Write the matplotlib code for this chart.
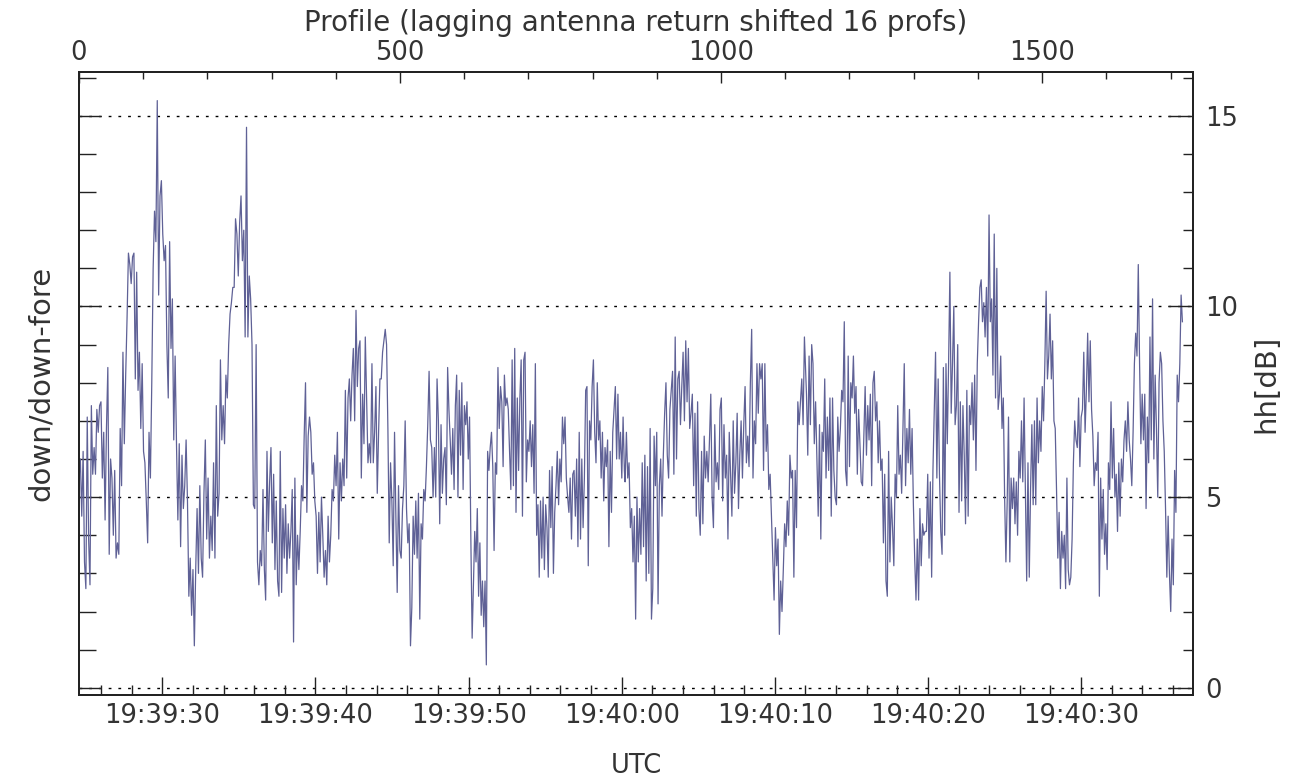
"""
Lagging-antenna down/down-fore ratio (hh, dB) vs profile number and UTC.
"""
import matplotlib
matplotlib.use("Agg")
import matplotlib.pyplot as plt
import matplotlib.ticker as mticker
import numpy as np

LINE_COLOR = "#5f6196"
TEXT_COLOR = "#333333"
FS = 18.5

# ── data ──────────────────────────────────────────────────────────────────────
# hh[dB] samples, read roughly every 2 profiles; one list per stretch of the trace
SEG_START = [0.0, 290.7, 570.1, 850.5, 1133.0, 1413.3]      # profile at first sample
SEG_END   = [288.7, 568.0, 849.4, 1129.8, 1411.2, 1718.5]   # profile at last sample

hh_seg1 = [5.5, 6.0, 4.5, 6.2, 3.3, 2.6, 7.1, 3.9, 2.7, 7.4, 5.6, 6.3, 5.6, 7.3, 6.7, 7.4,
           7.5, 5.5, 6.7, 4.4, 6.8, 8.4, 3.5, 6.0, 5.5, 4.0, 5.7, 3.4, 3.8, 3.5, 6.8, 5.3,
           8.8, 6.4, 8.2, 9.7, 11.4, 11.1, 10.6, 11.3, 11.4, 8.1, 10.9, 7.8, 8.8, 6.8, 8.5,
           6.2, 5.9, 4.9, 3.8, 6.7, 5.5, 8.0, 11.0, 12.5, 11.7, 15.4, 10.3, 12.9, 13.3, 11.9,
           11.2, 11.6, 9.0, 7.6, 11.7, 8.9, 10.2, 6.5, 8.7, 6.4, 4.4, 6.4, 3.7, 6.1, 4.7, 5.3,
           6.5, 4.9, 2.4, 3.4, 1.9, 3.1, 1.1, 3.1, 4.7, 3.0, 5.3, 3.4, 2.9, 5.1, 6.5, 3.9,
           5.5, 3.4, 4.5, 3.6, 5.9, 3.4, 7.4, 4.5, 5.1, 8.6, 6.5, 7.4, 6.4, 8.2, 7.6, 9.0,
           9.8, 10.1, 10.5, 10.5, 12.3, 11.9, 10.8, 12.2, 12.9, 11.2, 12.0, 9.2, 14.7, 9.2,
           10.8, 10.2, 9.0, 4.8, 4.7, 9.0, 3.3, 2.7, 3.6, 3.2, 5.2, 3.1]
hh_seg2 = [2.3, 6.2, 4.1, 5.4, 6.3, 3.8, 5.6, 3.1, 4.9, 2.8, 2.4, 6.2, 2.5, 4.7, 3.4, 4.8,
           3.0, 4.3, 3.4, 4.1, 5.2, 1.2, 5.5, 2.7, 4.0, 3.1, 4.1, 5.3, 4.9, 6.6, 8.0, 4.6,
           6.6, 7.1, 6.7, 5.6, 5.9, 4.9, 4.5, 3.0, 4.6, 3.3, 5.0, 4.0, 2.9, 3.6, 2.7, 4.5,
           3.3, 4.0, 5.2, 4.9, 6.1, 5.3, 6.7, 3.9, 5.9, 4.9, 6.0, 5.3, 7.8, 5.5, 7.6, 8.1,
           7.0, 8.2, 8.9, 7.0, 9.9, 7.9, 8.9, 9.1, 5.5, 7.7, 6.4, 9.2, 7.6, 5.9, 6.4, 5.9,
           8.5, 5.9, 6.7, 7.9, 5.1, 6.7, 8.1, 8.1, 8.8, 9.1, 9.4, 9.0, 6.8, 3.8, 5.9, 4.9,
           3.2, 6.7, 4.5, 2.5, 5.3, 3.6, 3.4, 4.7, 5.3, 7.0, 4.7, 3.8, 4.3, 1.1, 2.1, 4.5,
           3.5, 4.9, 3.4, 5.1, 1.8, 4.3, 3.9, 5.2, 4.9, 5.8, 6.9, 8.3, 6.5, 6.3, 5.0, 6.3,
           5.0, 8.1, 7.0, 4.3, 6.9, 5.1, 6.0]
hh_seg3 = [6.3, 4.8, 8.4, 7.3, 6.5, 5.6, 6.8, 5.2, 7.4, 8.2, 5.0, 7.8, 6.1, 8.0, 5.2, 7.4,
           6.9, 7.5, 6.0, 7.1, 3.9, 1.3, 2.7, 4.1, 3.3, 4.7, 2.4, 3.8, 1.9, 2.8, 1.6, 2.8,
           0.6, 6.2, 5.7, 6.3, 6.7, 5.8, 3.6, 5.9, 5.6, 8.4, 6.8, 7.9, 7.5, 5.8, 8.2, 7.4,
           7.6, 7.3, 6.2, 5.2, 8.6, 5.3, 8.9, 4.6, 7.6, 5.7, 7.6, 8.6, 4.5, 8.6, 8.8, 5.4,
           6.5, 6.2, 7.0, 5.8, 6.9, 5.1, 8.5, 4.0, 4.8, 2.9, 4.9, 3.4, 5.0, 3.1, 4.8, 4.2,
           2.9, 5.7, 4.2, 5.8, 3.0, 4.6, 5.3, 6.2, 4.8, 6.0, 5.4, 7.1, 6.4, 7.1, 5.5, 5.0,
           4.6, 5.5, 3.9, 5.6, 5.7, 4.5, 6.0, 3.7, 6.7, 3.9, 6.0, 4.2, 5.5, 7.8, 7.9, 3.2,
           7.0, 6.5, 7.9, 8.6, 6.7, 5.9, 8.0, 6.5, 7.0, 5.5, 6.7, 4.9, 6.3, 5.8, 6.5, 3.7,
           6.2, 4.6, 6.7, 7.3, 7.9, 6.0, 7.7, 6.0, 6.7, 5.5, 7.1, 5.7]
hh_seg4 = [5.4, 6.7, 5.5, 5.9, 4.2, 4.7, 3.3, 4.5, 1.8, 5.0, 3.3, 4.7, 3.5, 5.9, 3.7, 6.1,
           2.8, 5.8, 3.0, 6.8, 1.8, 2.6, 6.6, 5.3, 6.7, 2.2, 5.3, 6.0, 4.5, 6.1, 7.2, 8.0,
           6.1, 5.5, 7.3, 7.8, 8.3, 5.6, 9.2, 6.0, 8.1, 8.3, 6.9, 7.9, 8.8, 7.0, 9.1, 7.5,
           8.9, 6.8, 7.2, 7.7, 5.3, 7.2, 4.5, 7.5, 4.7, 4.0, 6.2, 4.3, 6.6, 5.5, 6.2, 5.4,
           6.5, 7.7, 5.0, 4.2, 6.9, 5.4, 5.9, 5.2, 7.3, 7.6, 4.9, 6.9, 5.5, 6.1, 3.9, 6.7,
           5.6, 4.5, 7.0, 5.1, 5.9, 7.2, 4.7, 6.1, 7.0, 5.5, 6.9, 7.9, 5.9, 6.6, 5.8, 8.0,
           9.4, 5.5, 7.0, 6.4, 8.5, 7.2, 8.5, 8.1, 8.5, 5.7, 8.5, 6.2, 6.9, 5.2, 5.6, 4.5,
           3.4, 2.3, 4.2, 3.2, 3.9, 1.4, 2.8, 2.0, 3.1, 4.3, 3.7, 4.9, 4.0, 6.1, 5.5, 5.7,
           2.9, 5.7, 4.2, 7.5, 6.9, 7.5, 8.1, 6.9, 9.2]
hh_seg5 = [7.7, 6.1, 8.7, 6.9, 9.0, 8.5, 6.4, 7.5, 6.0, 4.5, 6.9, 3.9, 6.7, 6.2, 8.1, 5.5,
           7.1, 5.7, 7.6, 4.5, 7.6, 5.7, 5.0, 4.8, 7.1, 6.2, 6.8, 7.8, 7.5, 9.6, 5.7, 5.3,
           8.7, 5.8, 8.0, 7.6, 8.7, 7.2, 7.9, 5.6, 7.3, 6.4, 5.4, 5.3, 6.6, 7.9, 6.1, 7.4,
           6.5, 7.7, 5.3, 8.0, 8.3, 7.0, 7.5, 5.9, 7.0, 5.7, 6.0, 3.8, 5.6, 2.8, 2.4, 6.2,
           3.3, 5.0, 4.2, 3.2, 5.6, 5.0, 7.4, 5.6, 6.1, 5.1, 6.8, 8.5, 5.3, 6.8, 5.9, 7.3,
           5.6, 6.8, 4.8, 3.4, 2.3, 3.9, 2.3, 4.7, 3.2, 4.3, 4.0, 4.1, 4.1, 5.6, 3.4, 5.4,
           2.9, 5.7, 7.2, 8.8, 5.5, 8.1, 5.6, 4.1, 3.5, 8.4, 4.0, 8.5, 6.4, 8.5, 10.9, 7.2,
           8.5, 10.0, 6.9, 7.4, 9.0, 4.6, 7.5, 4.9, 7.4, 6.1, 4.3, 7.8, 4.5, 7.4, 6.9, 8.0,
           6.5, 8.2, 5.7, 8.5, 9.6, 10.5, 10.7, 9.6, 10.1, 9.2]
hh_seg6 = [10.5, 8.7, 12.4, 9.6, 10.2, 8.2, 11.9, 7.6, 11.0, 7.3, 7.7, 8.7, 6.8, 7.6, 5.0,
           3.3, 4.9, 7.1, 3.3, 5.5, 4.7, 5.5, 4.3, 5.4, 4.0, 6.2, 5.5, 7.0, 5.4, 7.6, 5.2,
           2.8, 5.9, 2.9, 5.2, 6.9, 4.8, 7.0, 4.8, 7.6, 5.9, 7.0, 6.2, 7.9, 7.0, 8.5, 10.4,
           8.1, 8.7, 9.8, 8.1, 9.1, 7.0, 6.8, 5.2, 3.4, 4.6, 2.6, 4.1, 3.4, 4.0, 2.6, 5.5,
           3.1, 2.7, 2.9, 3.9, 5.9, 7.0, 6.5, 6.3, 7.6, 5.8, 7.1, 7.3, 8.8, 6.7, 7.8, 9.3,
           7.5, 9.1, 7.3, 6.6, 5.3, 5.9, 5.7, 6.7, 2.4, 5.5, 3.9, 5.2, 3.5, 4.3, 3.1, 5.9,
           5.2, 7.5, 5.5, 6.8, 5.0, 5.6, 4.1, 5.9, 4.5, 6.0, 5.4, 6.5, 7.0, 6.2, 7.5, 6.5,
           6.0, 5.3, 6.7, 8.5, 9.3, 8.7, 11.1, 8.5, 6.4, 7.7, 6.5, 7.7, 4.7, 7.1, 5.9, 9.2,
           6.5, 10.2, 6.0, 8.2, 6.8, 5.0, 8.0, 8.8, 8.5, 7.0, 6.2, 4.7, 2.9, 4.5, 3.0, 2.0,
           3.9, 2.7, 5.7, 4.6, 8.2, 7.5, 8.5, 10.3, 9.6]

HH_SEGMENTS = [hh_seg1, hh_seg2, hh_seg3, hh_seg4, hh_seg5, hh_seg6]

# axis ranges / time reference
N_PROFILES = 1735
T0_SEC = 19 * 3600 + 39 * 60 + 24.56       # UTC of profile 0
PROFILES_PER_SEC = 23.85
GRID_LEVELS = [0, 5, 10, 15]


def _t2p(sec):
    return (np.asarray(sec, dtype=float) - T0_SEC) * PROFILES_PER_SEC


def _fmt_utc(p, _pos=None):
    s = int(round(T0_SEC + p / PROFILES_PER_SEC))
    return f"{s // 3600:02d}:{(s % 3600) // 60:02d}:{s % 60:02d}"


def main():
    plt.rcParams.update({
        "font.family": "DejaVu Sans",
        "font.size": FS,
        "text.color": TEXT_COLOR,
        "axes.labelcolor": TEXT_COLOR,
        "xtick.color": "#222222",
        "ytick.color": "#222222",
        "xtick.labelcolor": TEXT_COLOR,
        "ytick.labelcolor": TEXT_COLOR,
    })

    fig = plt.figure(figsize=(12.97, 7.82), dpi=100)
    ax = fig.add_axes([79 / 1297, 87 / 782, 1114 / 1297, 623 / 782])

    profile = np.concatenate([np.linspace(a, b, len(v))
                              for a, b, v in zip(SEG_START, SEG_END, HH_SEGMENTS)])
    hh = np.concatenate(HH_SEGMENTS)

    for lv in GRID_LEVELS:
        ax.axhline(lv, color="black", lw=1.0, ls=(0, (2, 5)), zorder=1)
    ax.plot(profile, hh, color=LINE_COLOR, lw=0.9, zorder=2)

    ax.set_xlim(0, N_PROFILES)
    ax.set_ylim(-0.19, 16.15)
    for sp in ax.spines.values():
        sp.set_linewidth(1.2)
        sp.set_color("#222222")

    # bottom: UTC
    t_major = np.arange(T0_SEC - 24.56 + 30, T0_SEC + 75, 10)
    t_minor = np.arange(T0_SEC - 24.56 + 26, T0_SEC + 73.5, 2)
    ax.xaxis.set_major_locator(mticker.FixedLocator(_t2p(t_major)))
    ax.xaxis.set_minor_locator(mticker.FixedLocator(_t2p(t_minor)))
    ax.xaxis.set_major_formatter(mticker.FuncFormatter(_fmt_utc))
    ax.tick_params(axis="x", which="major", direction="in", length=13, width=1, pad=6)
    ax.tick_params(axis="x", which="minor", direction="in", length=7, width=1)
    ax.set_xlabel("UTC", labelpad=17)

    # left: ticks only
    ax.yaxis.set_major_locator(mticker.MultipleLocator(5))
    ax.yaxis.set_minor_locator(mticker.MultipleLocator(1))
    ax.yaxis.set_major_formatter(mticker.NullFormatter())
    ax.tick_params(axis="y", which="major", direction="in", length=16, width=1)
    ax.tick_params(axis="y", which="minor", direction="in", length=12, width=1)
    ax.set_ylabel("down/down-fore", fontsize=21, labelpad=14)

    # right: hh[dB]
    axr = ax.twinx()
    axr.set_ylim(ax.get_ylim())
    axr.yaxis.set_major_locator(mticker.MultipleLocator(5))
    axr.yaxis.set_minor_locator(mticker.MultipleLocator(1))
    axr.tick_params(axis="y", which="major", direction="in", length=18, width=1, pad=9)
    axr.tick_params(axis="y", which="minor", direction="in", length=7, width=1)
    axr.set_ylabel("hh[dB]", fontsize=21, labelpad=10)

    # top: profile number
    axt = ax.twiny()
    axt.set_xlim(ax.get_xlim())
    axt.xaxis.set_major_locator(mticker.MultipleLocator(500))
    axt.xaxis.set_minor_locator(mticker.MultipleLocator(100))
    axt.tick_params(axis="x", which="major", direction="in", length=8, width=1, pad=4)
    axt.tick_params(axis="x", which="minor", direction="in", length=5, width=1)
    fig.text((79 + 1114 * 0.5) / 1297, 1 - 31 / 782,
             "Profile (lagging antenna return shifted 16 profs)",
             fontsize=20, ha="center", va="baseline")

    for a in (axr, axt):
        for sp in a.spines.values():
            sp.set_linewidth(1.2)
            sp.set_color("#222222")

    fig.savefig("out.png", dpi=100)
    plt.close(fig)


if __name__ == "__main__":
    main()
